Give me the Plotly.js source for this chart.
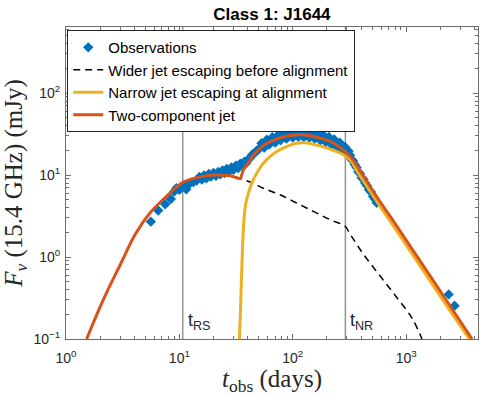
<!DOCTYPE html>
<html>
<head>
<meta charset="utf-8">
<script src="https://cdn.plot.ly/plotly-3.0.1.min.js"></script>
<style>
  html, body { margin: 0; padding: 0; background: white; }
  #plot { width: 490px; height: 396px; }
</style>
</head>
<body>
<div id="plot"></div>
<script>
// observations (days, mJy)
const obsT = [5.6, 6.5, 7.5, 8.4, 9.0, 9.4, 10.0, 11.0, 11.5, 12.3,
  13.3, 14.2, 15.0, 15.8, 16.5, 17.3, 18.2, 19.0, 20.0, 21.0,
  22.0, 23.0, 24.0, 25.0, 26.2, 27.5, 28.8, 30.0, 31.5, 33.0,
  34.5, 36.0, 37.5, 39.0, 40.5, 42.0, 44.0, 46.0, 48.0, 50.0,
  53, 56, 59, 62, 66, 70, 74, 78, 83, 88,
  94, 100, 106, 112, 118, 122, 125, 132, 140, 148,
  156, 165, 175, 185, 196, 208, 220, 232, 245, 260,
  275, 290, 300, 310, 320, 330, 340, 352, 365, 378,
  392, 405, 420, 435, 452, 470, 490, 510, 530, 550,
  2370, 2670];
const obsF = [2.7, 3.7, 4.4, 5.1, 6.3, 6.9, 6.6, 7.4, 6.7, 7.9,
  8.2, 8.6, 9.5, 8.8, 9.9, 9.1, 10.3, 9.6, 10.6, 9.8,
  10.9, 10.2, 11.4, 10.6, 11.9, 11.2, 12.4, 11.6, 13.0, 12.2,
  13.8, 13.0, 14.6, 14.0, 15.5, 16.2, 17.8, 18.5, 19.8, 20.6,
  24.4, 21.6, 27.0, 23.6, 28.9, 25.0, 30.6, 26.5, 32.2, 27.8,
  33.4, 28.6, 34.0, 29.2, 34.6, 37.0, 29.0, 34.2, 28.6, 33.4,
  27.8, 32.2, 26.6, 30.8, 25.2, 29.2, 23.6, 27.2, 21.8, 24.8,
  20.0, 21.8, 18.2, 19.6, 17.5, 15.5, 14.8, 13.4, 12.4, 11.0,
  10.4, 9.3, 8.9, 8.0, 7.4, 6.6, 6.2, 5.5, 5.1, 4.6,
  0.35, 0.255];

// wider jet escaping before alignment
const wideT = [1.52, 2.13, 3.0, 4.06, 5.5, 7.7, 10.5, 14.2, 20, 28, 34.3,
  45, 55, 77, 108, 152, 214, 291, 310, 407, 571, 801, 1125, 1378];
const wideF = [0.1, 0.30, 0.80, 1.87, 3.44, 5.5, 8.0, 9.3, 10.0, 9.8, 9.1,
  7.9, 6.9, 5.75, 4.56, 3.6, 2.85, 2.36, 2.05, 1.15, 0.62, 0.34, 0.18, 0.1];

// narrow jet escaping at alignment
const narrowT = [33.8, 34.5, 35.2, 35.8, 36.4, 37.2, 38.5, 40.6, 44, 48.2,
  53, 59, 67, 77, 90, 108, 128, 152, 180, 214, 255, 300, 335, 368,
  552, 1125, 2213, 3606];
const narrowF = [0.1, 0.2, 0.5, 1.0, 1.8, 3.0, 4.5, 6.0, 8.3, 10.6,
  13.0, 15.4, 18.0, 20.4, 22.6, 24.5, 24.8, 23.8, 22.4, 20.7, 18.9, 16.6, 14.2, 11.2,
  4.75, 1.1, 0.27, 0.1];

// two-component jet
const twoT = [1.52, 2.13, 3.0, 4.06, 5.5, 7.7, 10.5, 14.2, 20, 28, 34.3,
  35.3, 36.7, 40, 45, 50, 55, 65, 77, 90, 109, 130, 152, 180, 214, 250,
  291, 321, 552, 829, 1125, 2213, 3810];
const twoF = [0.1, 0.30, 0.80, 1.87, 3.44, 5.5, 8.0, 9.3, 10.0, 9.8, 9.1,
  9.8, 11.6, 13.6, 17.5, 20.3, 23.0, 26.0, 28.3, 30.0, 31.0, 30.8, 29.6, 27.9, 25.7, 22.6,
  19.3, 16.9, 5.4, 2.36, 1.26, 0.31, 0.1];

const tRS = 10.7;
const tNR = 291;
const xMax = 4300, yMin = 0.1, yMax = 640;

const axisColor = '#262626';
const frameColor = '#6e6e6e';
const tickFont = { family: 'Liberation Sans, Arial, sans-serif', size: 14, color: axisColor };
const xTicks = [1, 10, 100, 1000];
const yTicks = [0.1, 1, 10, 100];

// minor tick positions 2..9 in every decade
function minorTicks(decades) {
  const out = [];
  decades.forEach(d => { for (let k = 2; k <= 9; k++) out.push(k * d); });
  return out;
}
const xMinor = minorTicks(xTicks);
const yMinor = minorTicks(yTicks);

const traces = [
  {
    x: [tRS, tRS], y: [yMin, yMax], mode: 'lines', showlegend: false, hoverinfo: 'skip',
    line: { color: '#959595', width: 1.5 }
  },
  {
    x: [tNR, tNR], y: [yMin, yMax], mode: 'lines', showlegend: false, hoverinfo: 'skip',
    line: { color: '#959595', width: 1.5 }
  },
  {
    name: 'Observations', x: obsT, y: obsF, mode: 'markers',
    marker: { symbol: 'diamond', size: 8, color: '#0072BD', line: { width: 0 } }
  },
  {
    name: 'Wider jet escaping before alignment', x: wideT, y: wideF, mode: 'lines',
    line: { color: 'black', width: 1.5, dash: '7px,5px', shape: 'spline', smoothing: 1 }
  },
  {
    name: 'Narrow jet escaping at alignment', x: narrowT, y: narrowF, mode: 'lines',
    line: { color: '#EDB120', width: 3, shape: 'spline', smoothing: 0.6 }
  },
  {
    name: 'Two-component jet', x: twoT, y: twoF, mode: 'lines',
    line: { color: '#D95319', width: 3, shape: 'spline', smoothing: 1 }
  },
  // empty trace so the top/right box axes get drawn
  { x: [], y: [], xaxis: 'x2', yaxis: 'y2', mode: 'markers', showlegend: false, hoverinfo: 'skip' }
];

function axisBase(major, minor) {
  return {
    type: 'log',
    tickmode: 'array', tickvals: major,
    ticks: 'inside', ticklen: 5, tickcolor: frameColor, tickwidth: 1,
    minor: { tickmode: 'array', tickvals: minor, ticks: 'inside', ticklen: 3,
      tickcolor: frameColor, tickwidth: 1, showgrid: false },
    showline: true, linecolor: frameColor, linewidth: 1,
    showgrid: false, zeroline: false
  };
}

const layout = {
  width: 490,
  height: 396,
  margin: { l: 66, r: 12, t: 27, b: 57 },
  paper_bgcolor: 'white',
  plot_bgcolor: 'white',
  title: {
    text: '<b>Class 1: J1644</b>',
    font: { family: 'Liberation Sans, Arial, sans-serif', size: 17, color: 'black' },
    x: 0.555, xanchor: 'center', y: 0.965, yanchor: 'middle'
  },
  xaxis: Object.assign(axisBase(xTicks, xMinor), {
    range: [0, Math.log10(xMax)],
    ticktext: ['10<sup>0</sup>', '10<sup>1</sup>', '10<sup>2</sup>', '10<sup>3</sup>'],
    ticklabelstandoff: 6,
    tickfont: tickFont,
    title: {
      text: '<i>t</i><sub>obs</sub> (days)',
      font: { family: 'Liberation Serif, Times New Roman, serif', size: 25, color: axisColor },
      standoff: 4
    }
  }),
  yaxis: Object.assign(axisBase(yTicks, yMinor), {
    range: [Math.log10(yMin), Math.log10(yMax)],
    ticktext: ['10<sup>\u22121</sup>', '10<sup>0</sup>', '10<sup>1</sup>', '10<sup>2</sup>'],
    ticklabelstandoff: 2,
    tickfont: tickFont,
    title: {
      text: '<i>F</i><sub><i>\u03bd</i></sub> (15.4 GHz) (mJy)',
      font: { family: 'Liberation Serif, Times New Roman, serif', size: 25, color: axisColor },
      standoff: 6
    }
  }),
  xaxis2: Object.assign(axisBase(xTicks, xMinor), {
    overlaying: 'x', side: 'top', anchor: 'y2', showticklabels: false,
    range: [0, Math.log10(xMax)]
  }),
  yaxis2: Object.assign(axisBase(yTicks, yMinor), {
    overlaying: 'y', side: 'right', anchor: 'x2', showticklabels: false,
    range: [Math.log10(yMin), Math.log10(yMax)]
  }),
  legend: {
    x: 0.003, y: 0.99, xanchor: 'left', yanchor: 'top',
    bgcolor: 'white', bordercolor: axisColor, borderwidth: 1,
    itemwidth: 30,
    font: { family: 'Liberation Sans, Arial, sans-serif', size: 15, color: 'black' }
  },
  annotations: [
    {
      xref: 'x', yref: 'paper', x: Math.log10(tRS), y: 0.0,
      xanchor: 'left', yanchor: 'bottom', xshift: 3, yshift: 4, showarrow: false,
      text: 't<sub>RS</sub>',
      font: { family: 'Liberation Sans, Arial, sans-serif', size: 18, color: axisColor }
    },
    {
      xref: 'x', yref: 'paper', x: Math.log10(tNR), y: 0.0,
      xanchor: 'left', yanchor: 'bottom', xshift: 3, yshift: 4, showarrow: false,
      text: 't<sub>NR</sub>',
      font: { family: 'Liberation Sans, Arial, sans-serif', size: 18, color: axisColor }
    }
  ],
  showlegend: true
};

Plotly.newPlot('plot', traces, layout, { displayModeBar: false, staticPlot: true });
</script>
</body>
</html>
